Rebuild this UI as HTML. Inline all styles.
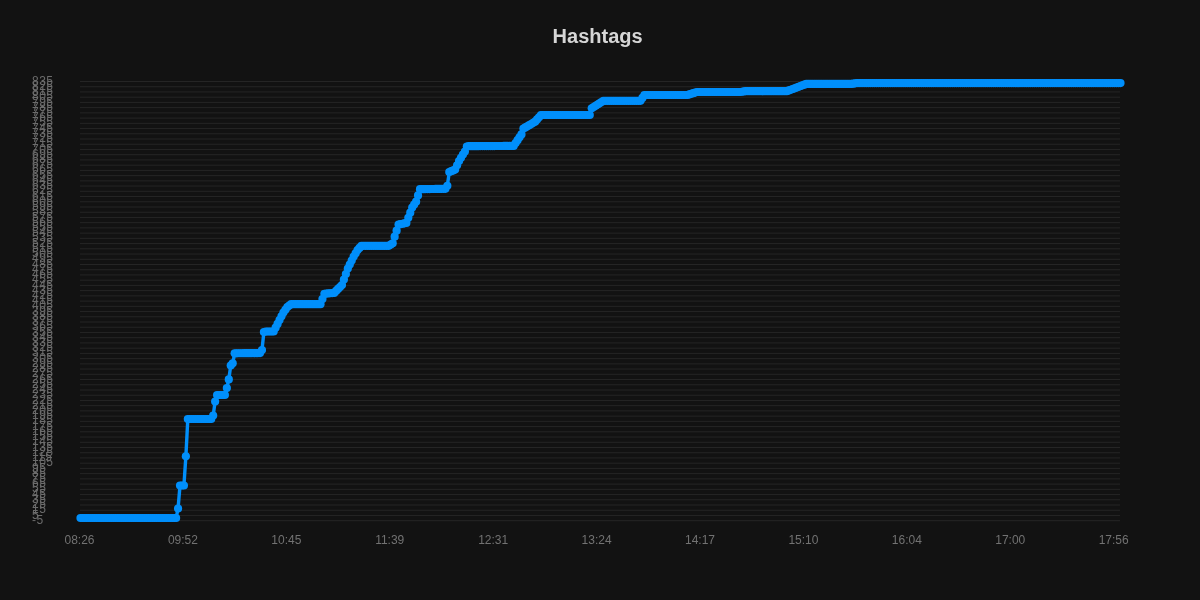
<!DOCTYPE html>
<html lang="en">
<head>
<meta charset="utf-8">
<title>Hashtags</title>
<style>
html,body{margin:0;padding:0;background:#121212;width:1200px;height:600px;overflow:hidden;}
svg{display:block;}
</style>
</head>
<body>
<svg width="1200" height="600" viewBox="0 0 1200 600">
<path d="M80.0 81.50H1120.0M80.0 86.73H1120.0M80.0 91.96H1120.0M80.0 97.19H1120.0M80.0 102.41H1120.0M80.0 107.64H1120.0M80.0 112.87H1120.0M80.0 118.10H1120.0M80.0 123.33H1120.0M80.0 128.56H1120.0M80.0 133.79H1120.0M80.0 139.01H1120.0M80.0 144.24H1120.0M80.0 149.47H1120.0M80.0 154.70H1120.0M80.0 159.93H1120.0M80.0 165.16H1120.0M80.0 170.39H1120.0M80.0 175.61H1120.0M80.0 180.84H1120.0M80.0 186.07H1120.0M80.0 191.30H1120.0M80.0 196.53H1120.0M80.0 201.76H1120.0M80.0 206.99H1120.0M80.0 212.21H1120.0M80.0 217.44H1120.0M80.0 222.67H1120.0M80.0 227.90H1120.0M80.0 233.13H1120.0M80.0 238.36H1120.0M80.0 243.59H1120.0M80.0 248.81H1120.0M80.0 254.04H1120.0M80.0 259.27H1120.0M80.0 264.50H1120.0M80.0 269.73H1120.0M80.0 274.96H1120.0M80.0 280.19H1120.0M80.0 285.41H1120.0M80.0 290.64H1120.0M80.0 295.87H1120.0M80.0 301.10H1120.0M80.0 306.33H1120.0M80.0 311.56H1120.0M80.0 316.79H1120.0M80.0 322.01H1120.0M80.0 327.24H1120.0M80.0 332.47H1120.0M80.0 337.70H1120.0M80.0 342.93H1120.0M80.0 348.16H1120.0M80.0 353.39H1120.0M80.0 358.61H1120.0M80.0 363.84H1120.0M80.0 369.07H1120.0M80.0 374.30H1120.0M80.0 379.53H1120.0M80.0 384.76H1120.0M80.0 389.99H1120.0M80.0 395.21H1120.0M80.0 400.44H1120.0M80.0 405.67H1120.0M80.0 410.90H1120.0M80.0 416.13H1120.0M80.0 421.36H1120.0M80.0 426.59H1120.0M80.0 431.81H1120.0M80.0 437.04H1120.0M80.0 442.27H1120.0M80.0 447.50H1120.0M80.0 452.73H1120.0M80.0 457.96H1120.0M80.0 463.19H1120.0M80.0 468.41H1120.0M80.0 473.64H1120.0M80.0 478.87H1120.0M80.0 484.10H1120.0M80.0 489.33H1120.0M80.0 494.56H1120.0M80.0 499.79H1120.0M80.0 505.01H1120.0M80.0 510.24H1120.0M80.0 515.47H1120.0M80.0 520.70H1120.0" stroke="#252525" stroke-width="1" fill="none"/>
<g font-family="'Liberation Sans', Arial, sans-serif" font-size="12" fill="#6c6c6c" text-anchor="start" letter-spacing="0.4">
<text x="32.1" y="84.60">835</text>
<text x="32.1" y="89.83">825</text>
<text x="32.1" y="95.06">815</text>
<text x="32.1" y="100.29">805</text>
<text x="32.1" y="105.51">795</text>
<text x="32.1" y="110.74">785</text>
<text x="32.1" y="115.97">775</text>
<text x="32.1" y="121.20">765</text>
<text x="32.1" y="126.43">755</text>
<text x="32.1" y="131.66">745</text>
<text x="32.1" y="136.89">735</text>
<text x="32.1" y="142.11">725</text>
<text x="32.1" y="147.34">715</text>
<text x="32.1" y="152.57">705</text>
<text x="32.1" y="157.80">695</text>
<text x="32.1" y="163.03">685</text>
<text x="32.1" y="168.26">675</text>
<text x="32.1" y="173.49">665</text>
<text x="32.1" y="178.71">655</text>
<text x="32.1" y="183.94">645</text>
<text x="32.1" y="189.17">635</text>
<text x="32.1" y="194.40">625</text>
<text x="32.1" y="199.63">615</text>
<text x="32.1" y="204.86">605</text>
<text x="32.1" y="210.09">595</text>
<text x="32.1" y="215.31">585</text>
<text x="32.1" y="220.54">575</text>
<text x="32.1" y="225.77">565</text>
<text x="32.1" y="231.00">555</text>
<text x="32.1" y="236.23">545</text>
<text x="32.1" y="241.46">535</text>
<text x="32.1" y="246.69">525</text>
<text x="32.1" y="251.91">515</text>
<text x="32.1" y="257.14">505</text>
<text x="32.1" y="262.37">495</text>
<text x="32.1" y="267.60">485</text>
<text x="32.1" y="272.83">475</text>
<text x="32.1" y="278.06">465</text>
<text x="32.1" y="283.29">455</text>
<text x="32.1" y="288.51">445</text>
<text x="32.1" y="293.74">435</text>
<text x="32.1" y="298.97">425</text>
<text x="32.1" y="304.20">415</text>
<text x="32.1" y="309.43">405</text>
<text x="32.1" y="314.66">395</text>
<text x="32.1" y="319.89">385</text>
<text x="32.1" y="325.11">375</text>
<text x="32.1" y="330.34">365</text>
<text x="32.1" y="335.57">355</text>
<text x="32.1" y="340.80">345</text>
<text x="32.1" y="346.03">335</text>
<text x="32.1" y="351.26">325</text>
<text x="32.1" y="356.49">315</text>
<text x="32.1" y="361.71">305</text>
<text x="32.1" y="366.94">295</text>
<text x="32.1" y="372.17">285</text>
<text x="32.1" y="377.40">275</text>
<text x="32.1" y="382.63">265</text>
<text x="32.1" y="387.86">255</text>
<text x="32.1" y="393.09">245</text>
<text x="32.1" y="398.31">235</text>
<text x="32.1" y="403.54">225</text>
<text x="32.1" y="408.77">215</text>
<text x="32.1" y="414.00">205</text>
<text x="32.1" y="419.23">195</text>
<text x="32.1" y="424.46">185</text>
<text x="32.1" y="429.69">175</text>
<text x="32.1" y="434.91">165</text>
<text x="32.1" y="440.14">155</text>
<text x="32.1" y="445.37">145</text>
<text x="32.1" y="450.60">135</text>
<text x="32.1" y="455.83">125</text>
<text x="32.1" y="461.06">115</text>
<text x="32.1" y="466.29">105</text>
<text x="32.1" y="471.51">95</text>
<text x="32.1" y="476.74">85</text>
<text x="32.1" y="481.97">75</text>
<text x="32.1" y="487.20">65</text>
<text x="32.1" y="492.43">55</text>
<text x="32.1" y="497.66">45</text>
<text x="32.1" y="502.89">35</text>
<text x="32.1" y="508.11">25</text>
<text x="32.1" y="513.34">15</text>
<text x="32.1" y="518.57">5</text>
<text x="32.1" y="523.80">-5</text>
</g>
<g font-family="'Liberation Sans', Arial, sans-serif" font-size="12" fill="#727272" text-anchor="middle">
<text x="79.50" y="544">08:26</text>
<text x="182.91" y="544">09:52</text>
<text x="286.33" y="544">10:45</text>
<text x="389.74" y="544">11:39</text>
<text x="493.16" y="544">12:31</text>
<text x="596.57" y="544">13:24</text>
<text x="699.99" y="544">14:17</text>
<text x="803.40" y="544">15:10</text>
<text x="906.82" y="544">16:04</text>
<text x="1010.23" y="544">17:00</text>
<text x="1113.65" y="544">17:56</text>
</g>
<text x="597.6" y="43.3" font-family="'Liberation Sans', Arial, sans-serif" font-size="20" font-weight="bold" fill="#d6d6d6" text-anchor="middle">Hashtags</text>
<path d="M80.50 518.00L82.45 518.00L84.40 518.00L86.35 518.00L88.30 518.00L90.26 518.00L92.21 518.00L94.16 518.00L96.11 518.00L98.06 518.00L100.01 518.00L101.96 518.00L103.91 518.00L105.87 518.00L107.82 518.00L109.77 518.00L111.72 518.00L113.67 518.00L115.62 518.00L117.57 518.00L119.52 518.00L121.48 518.00L123.43 518.00L125.38 518.00L127.33 518.00L129.28 518.00L131.23 518.00L133.18 518.00L135.13 518.00L137.09 518.00L139.04 518.00L140.99 518.00L142.94 518.00L144.89 518.00L146.84 518.00L148.79 518.00L150.74 518.00L152.70 518.00L154.65 518.00L156.60 518.00L158.55 518.00L160.50 518.00L162.45 518.00L164.40 518.00L166.35 518.00L168.30 518.00L170.26 518.00L172.21 518.00L174.16 518.00L176.11 518.00L178.06 508.50L180.01 485.50L181.96 485.50L183.91 485.50L185.87 456.30L187.82 419.00L189.77 419.00L191.72 419.00L193.67 419.00L195.62 419.00L197.57 419.00L199.52 419.00L201.48 419.00L203.43 419.00L205.38 419.00L207.33 419.00L209.28 419.00L211.23 419.00L213.18 415.50L215.13 401.50L217.09 395.00L219.04 395.00L220.99 395.00L222.94 395.00L224.89 395.00L226.84 388.10L228.79 379.40L230.74 365.50L232.70 363.30L234.65 353.30L236.60 353.28L238.55 353.27L240.50 353.25L242.45 353.24L244.40 353.22L246.35 353.21L248.30 353.19L250.26 353.18L252.21 353.16L254.16 353.15L256.11 353.13L258.06 353.12L260.01 353.10L261.96 350.00L263.91 332.00L265.87 331.50L267.82 331.50L269.77 331.50L271.72 331.50L273.67 331.50L275.62 327.70L277.57 323.90L279.52 320.10L281.48 316.30L283.43 312.50L285.38 309.75L287.33 307.00L289.28 305.60L291.23 304.20L293.18 304.20L295.13 304.20L297.09 304.20L299.04 304.20L300.99 304.20L302.94 304.20L304.89 304.20L306.84 304.20L308.79 304.20L310.74 304.20L312.70 304.20L314.65 304.20L316.60 304.20L318.55 304.20L320.50 304.20L322.45 299.00L324.40 293.80L326.35 293.62L328.30 293.44L330.26 293.26L332.21 293.08L334.16 292.90L336.11 290.92L338.06 288.95L340.01 286.98L341.96 285.00L343.91 279.50L345.87 274.00L347.82 268.50L349.77 264.50L351.72 260.50L353.67 256.50L355.62 253.25L357.57 250.00L359.52 247.90L361.48 245.80L363.43 245.80L365.38 245.80L367.33 245.80L369.28 245.80L371.23 245.80L373.18 245.80L375.13 245.80L377.09 245.80L379.04 245.80L380.99 245.80L382.94 245.80L384.89 245.80L386.84 245.80L388.79 245.80L390.74 244.55L392.70 243.30L394.65 236.70L396.60 230.65L398.55 224.60L400.50 224.18L402.45 223.75L404.40 223.32L406.35 222.90L408.30 217.77L410.26 212.63L412.21 207.50L414.16 204.60L416.11 201.70L418.06 195.45L420.01 189.20L421.96 189.17L423.91 189.14L425.87 189.11L427.82 189.08L429.77 189.05L431.72 189.02L433.67 188.98L435.62 188.95L437.57 188.92L439.52 188.89L441.48 188.86L443.43 188.83L445.38 188.80L447.33 185.80L449.28 172.00L451.23 171.20L453.18 170.40L455.13 169.60L457.09 165.30L459.04 161.00L460.99 157.75L462.94 154.50L464.89 151.50L466.84 146.50L468.79 146.20L470.74 146.19L472.70 146.17L474.65 146.16L476.60 146.15L478.55 146.13L480.50 146.12L482.45 146.11L484.40 146.10L486.35 146.08L488.30 146.07L490.26 146.06L492.21 146.04L494.16 146.03L496.11 146.02L498.06 146.00L500.01 145.99L501.96 145.98L503.91 145.97L505.87 145.95L507.82 145.94L509.77 145.93L511.72 145.91L513.67 145.90L515.62 143.03L517.57 140.15L519.52 137.28L521.48 134.40L523.43 128.60L525.38 127.45L527.33 126.30L529.28 125.15L531.23 124.00L533.18 122.85L535.13 121.70L537.09 119.47L539.04 117.23L540.99 115.00L542.94 115.00L544.89 115.00L546.84 115.00L548.79 115.00L550.74 115.00L552.70 115.00L554.65 115.00L556.60 115.00L558.55 115.00L560.50 115.00L562.45 115.00L564.40 115.00L566.35 115.00L568.30 115.00L570.26 115.00L572.21 115.00L574.16 115.00L576.11 115.00L578.06 115.00L580.01 115.00L581.96 115.00L583.91 115.00L585.87 115.00L587.82 115.00L589.77 115.00L591.72 108.30L593.67 107.05L595.62 105.80L597.57 104.55L599.52 103.30L601.48 102.05L603.43 100.80L605.38 100.80L607.33 100.80L609.28 100.80L611.23 100.80L613.18 100.80L615.13 100.80L617.09 100.80L619.04 100.80L620.99 100.80L622.94 100.80L624.89 100.80L626.84 100.80L628.79 100.80L630.74 100.80L632.70 100.80L634.65 100.80L636.60 100.80L638.55 100.80L640.50 100.80L642.45 97.90L644.40 95.00L646.35 95.00L648.30 95.00L650.26 95.00L652.21 95.00L654.16 95.00L656.11 95.00L658.06 95.00L660.01 95.00L661.96 95.00L663.91 95.00L665.87 95.00L667.82 95.00L669.77 95.00L671.72 95.00L673.67 95.00L675.62 95.00L677.57 95.00L679.52 95.00L681.48 95.00L683.43 95.00L685.38 95.00L687.33 95.00L689.28 94.40L691.23 93.80L693.18 93.20L695.13 92.60L697.09 92.00L699.04 92.00L700.99 92.00L702.94 92.00L704.89 92.00L706.84 92.00L708.79 92.00L710.74 92.00L712.70 92.00L714.65 92.00L716.60 92.00L718.55 92.00L720.50 92.00L722.45 92.00L724.40 92.00L726.35 92.00L728.30 92.00L730.26 92.00L732.21 92.00L734.16 92.00L736.11 92.00L738.06 92.00L740.01 92.00L741.96 91.73L743.91 91.47L745.87 91.20L747.82 91.20L749.77 91.20L751.72 91.20L753.67 91.20L755.62 91.20L757.57 91.20L759.52 91.20L761.48 91.20L763.43 91.20L765.38 91.20L767.33 91.20L769.28 91.20L771.23 91.20L773.18 91.20L775.13 91.20L777.09 91.20L779.04 91.20L780.99 91.20L782.94 91.20L784.89 91.20L786.84 91.20L788.79 90.47L790.74 89.74L792.70 89.01L794.65 88.28L796.60 87.55L798.55 86.82L800.50 86.09L802.45 85.36L804.40 84.63L806.35 83.90L808.30 83.90L810.26 83.90L812.21 83.90L814.16 83.90L816.11 83.90L818.06 83.90L820.01 83.90L821.96 83.90L823.91 83.90L825.87 83.90L827.82 83.90L829.77 83.90L831.72 83.90L833.67 83.90L835.62 83.90L837.57 83.90L839.52 83.90L841.48 83.90L843.43 83.90L845.38 83.90L847.33 83.90L849.28 83.90L851.23 83.90L853.18 83.63L855.13 83.37L857.09 83.10L859.04 83.10L860.99 83.10L862.94 83.10L864.89 83.10L866.84 83.10L868.79 83.10L870.74 83.10L872.70 83.10L874.65 83.10L876.60 83.10L878.55 83.10L880.50 83.10L882.45 83.10L884.40 83.10L886.35 83.10L888.30 83.10L890.26 83.10L892.21 83.10L894.16 83.10L896.11 83.10L898.06 83.10L900.01 83.10L901.96 83.10L903.91 83.10L905.87 83.10L907.82 83.10L909.77 83.10L911.72 83.10L913.67 83.10L915.62 83.10L917.57 83.10L919.52 83.10L921.48 83.10L923.43 83.10L925.38 83.10L927.33 83.10L929.28 83.10L931.23 83.10L933.18 83.10L935.13 83.10L937.09 83.10L939.04 83.10L940.99 83.10L942.94 83.10L944.89 83.10L946.84 83.10L948.79 83.10L950.74 83.10L952.70 83.10L954.65 83.10L956.60 83.10L958.55 83.10L960.50 83.10L962.45 83.10L964.40 83.10L966.35 83.10L968.30 83.10L970.26 83.10L972.21 83.10L974.16 83.10L976.11 83.10L978.06 83.10L980.01 83.10L981.96 83.10L983.91 83.10L985.87 83.10L987.82 83.10L989.77 83.10L991.72 83.10L993.67 83.10L995.62 83.10L997.57 83.10L999.52 83.10L1001.48 83.10L1003.43 83.10L1005.38 83.10L1007.33 83.10L1009.28 83.10L1011.23 83.10L1013.18 83.10L1015.13 83.10L1017.09 83.10L1019.04 83.10L1020.99 83.10L1022.94 83.10L1024.89 83.10L1026.84 83.10L1028.79 83.10L1030.74 83.10L1032.70 83.10L1034.65 83.10L1036.60 83.10L1038.55 83.10L1040.50 83.10L1042.45 83.10L1044.40 83.10L1046.35 83.10L1048.30 83.10L1050.26 83.10L1052.21 83.10L1054.16 83.10L1056.11 83.10L1058.06 83.10L1060.01 83.10L1061.96 83.10L1063.91 83.10L1065.87 83.10L1067.82 83.10L1069.77 83.10L1071.72 83.10L1073.67 83.10L1075.62 83.10L1077.57 83.10L1079.52 83.10L1081.48 83.10L1083.43 83.10L1085.38 83.10L1087.33 83.10L1089.28 83.10L1091.23 83.10L1093.18 83.10L1095.13 83.10L1097.09 83.10L1099.04 83.10L1100.99 83.10L1102.94 83.10L1104.89 83.10L1106.84 83.10L1108.79 83.10L1110.74 83.10L1112.70 83.10L1114.65 83.10L1116.60 83.10L1118.55 83.10L1120.50 83.10" fill="none" stroke="#008FFB" stroke-width="3.4" stroke-linecap="butt" stroke-linejoin="round"/>
<g fill="#008FFB">
<circle cx="80.50" cy="518.00" r="4.1"/>
<circle cx="82.45" cy="518.00" r="4.1"/>
<circle cx="84.40" cy="518.00" r="4.1"/>
<circle cx="86.35" cy="518.00" r="4.1"/>
<circle cx="88.30" cy="518.00" r="4.1"/>
<circle cx="90.26" cy="518.00" r="4.1"/>
<circle cx="92.21" cy="518.00" r="4.1"/>
<circle cx="94.16" cy="518.00" r="4.1"/>
<circle cx="96.11" cy="518.00" r="4.1"/>
<circle cx="98.06" cy="518.00" r="4.1"/>
<circle cx="100.01" cy="518.00" r="4.1"/>
<circle cx="101.96" cy="518.00" r="4.1"/>
<circle cx="103.91" cy="518.00" r="4.1"/>
<circle cx="105.87" cy="518.00" r="4.1"/>
<circle cx="107.82" cy="518.00" r="4.1"/>
<circle cx="109.77" cy="518.00" r="4.1"/>
<circle cx="111.72" cy="518.00" r="4.1"/>
<circle cx="113.67" cy="518.00" r="4.1"/>
<circle cx="115.62" cy="518.00" r="4.1"/>
<circle cx="117.57" cy="518.00" r="4.1"/>
<circle cx="119.52" cy="518.00" r="4.1"/>
<circle cx="121.48" cy="518.00" r="4.1"/>
<circle cx="123.43" cy="518.00" r="4.1"/>
<circle cx="125.38" cy="518.00" r="4.1"/>
<circle cx="127.33" cy="518.00" r="4.1"/>
<circle cx="129.28" cy="518.00" r="4.1"/>
<circle cx="131.23" cy="518.00" r="4.1"/>
<circle cx="133.18" cy="518.00" r="4.1"/>
<circle cx="135.13" cy="518.00" r="4.1"/>
<circle cx="137.09" cy="518.00" r="4.1"/>
<circle cx="139.04" cy="518.00" r="4.1"/>
<circle cx="140.99" cy="518.00" r="4.1"/>
<circle cx="142.94" cy="518.00" r="4.1"/>
<circle cx="144.89" cy="518.00" r="4.1"/>
<circle cx="146.84" cy="518.00" r="4.1"/>
<circle cx="148.79" cy="518.00" r="4.1"/>
<circle cx="150.74" cy="518.00" r="4.1"/>
<circle cx="152.70" cy="518.00" r="4.1"/>
<circle cx="154.65" cy="518.00" r="4.1"/>
<circle cx="156.60" cy="518.00" r="4.1"/>
<circle cx="158.55" cy="518.00" r="4.1"/>
<circle cx="160.50" cy="518.00" r="4.1"/>
<circle cx="162.45" cy="518.00" r="4.1"/>
<circle cx="164.40" cy="518.00" r="4.1"/>
<circle cx="166.35" cy="518.00" r="4.1"/>
<circle cx="168.30" cy="518.00" r="4.1"/>
<circle cx="170.26" cy="518.00" r="4.1"/>
<circle cx="172.21" cy="518.00" r="4.1"/>
<circle cx="174.16" cy="518.00" r="4.1"/>
<circle cx="176.11" cy="518.00" r="4.1"/>
<circle cx="178.06" cy="508.50" r="4.1"/>
<circle cx="180.01" cy="485.50" r="4.1"/>
<circle cx="181.96" cy="485.50" r="4.1"/>
<circle cx="183.91" cy="485.50" r="4.1"/>
<circle cx="185.87" cy="456.30" r="4.1"/>
<circle cx="187.82" cy="419.00" r="4.1"/>
<circle cx="189.77" cy="419.00" r="4.1"/>
<circle cx="191.72" cy="419.00" r="4.1"/>
<circle cx="193.67" cy="419.00" r="4.1"/>
<circle cx="195.62" cy="419.00" r="4.1"/>
<circle cx="197.57" cy="419.00" r="4.1"/>
<circle cx="199.52" cy="419.00" r="4.1"/>
<circle cx="201.48" cy="419.00" r="4.1"/>
<circle cx="203.43" cy="419.00" r="4.1"/>
<circle cx="205.38" cy="419.00" r="4.1"/>
<circle cx="207.33" cy="419.00" r="4.1"/>
<circle cx="209.28" cy="419.00" r="4.1"/>
<circle cx="211.23" cy="419.00" r="4.1"/>
<circle cx="213.18" cy="415.50" r="4.1"/>
<circle cx="215.13" cy="401.50" r="4.1"/>
<circle cx="217.09" cy="395.00" r="4.1"/>
<circle cx="219.04" cy="395.00" r="4.1"/>
<circle cx="220.99" cy="395.00" r="4.1"/>
<circle cx="222.94" cy="395.00" r="4.1"/>
<circle cx="224.89" cy="395.00" r="4.1"/>
<circle cx="226.84" cy="388.10" r="4.1"/>
<circle cx="228.79" cy="379.40" r="4.1"/>
<circle cx="230.74" cy="365.50" r="4.1"/>
<circle cx="232.70" cy="363.30" r="4.1"/>
<circle cx="234.65" cy="353.30" r="4.1"/>
<circle cx="236.60" cy="353.28" r="4.1"/>
<circle cx="238.55" cy="353.27" r="4.1"/>
<circle cx="240.50" cy="353.25" r="4.1"/>
<circle cx="242.45" cy="353.24" r="4.1"/>
<circle cx="244.40" cy="353.22" r="4.1"/>
<circle cx="246.35" cy="353.21" r="4.1"/>
<circle cx="248.30" cy="353.19" r="4.1"/>
<circle cx="250.26" cy="353.18" r="4.1"/>
<circle cx="252.21" cy="353.16" r="4.1"/>
<circle cx="254.16" cy="353.15" r="4.1"/>
<circle cx="256.11" cy="353.13" r="4.1"/>
<circle cx="258.06" cy="353.12" r="4.1"/>
<circle cx="260.01" cy="353.10" r="4.1"/>
<circle cx="261.96" cy="350.00" r="4.1"/>
<circle cx="263.91" cy="332.00" r="4.1"/>
<circle cx="265.87" cy="331.50" r="4.1"/>
<circle cx="267.82" cy="331.50" r="4.1"/>
<circle cx="269.77" cy="331.50" r="4.1"/>
<circle cx="271.72" cy="331.50" r="4.1"/>
<circle cx="273.67" cy="331.50" r="4.1"/>
<circle cx="275.62" cy="327.70" r="4.1"/>
<circle cx="277.57" cy="323.90" r="4.1"/>
<circle cx="279.52" cy="320.10" r="4.1"/>
<circle cx="281.48" cy="316.30" r="4.1"/>
<circle cx="283.43" cy="312.50" r="4.1"/>
<circle cx="285.38" cy="309.75" r="4.1"/>
<circle cx="287.33" cy="307.00" r="4.1"/>
<circle cx="289.28" cy="305.60" r="4.1"/>
<circle cx="291.23" cy="304.20" r="4.1"/>
<circle cx="293.18" cy="304.20" r="4.1"/>
<circle cx="295.13" cy="304.20" r="4.1"/>
<circle cx="297.09" cy="304.20" r="4.1"/>
<circle cx="299.04" cy="304.20" r="4.1"/>
<circle cx="300.99" cy="304.20" r="4.1"/>
<circle cx="302.94" cy="304.20" r="4.1"/>
<circle cx="304.89" cy="304.20" r="4.1"/>
<circle cx="306.84" cy="304.20" r="4.1"/>
<circle cx="308.79" cy="304.20" r="4.1"/>
<circle cx="310.74" cy="304.20" r="4.1"/>
<circle cx="312.70" cy="304.20" r="4.1"/>
<circle cx="314.65" cy="304.20" r="4.1"/>
<circle cx="316.60" cy="304.20" r="4.1"/>
<circle cx="318.55" cy="304.20" r="4.1"/>
<circle cx="320.50" cy="304.20" r="4.1"/>
<circle cx="322.45" cy="299.00" r="4.1"/>
<circle cx="324.40" cy="293.80" r="4.1"/>
<circle cx="326.35" cy="293.62" r="4.1"/>
<circle cx="328.30" cy="293.44" r="4.1"/>
<circle cx="330.26" cy="293.26" r="4.1"/>
<circle cx="332.21" cy="293.08" r="4.1"/>
<circle cx="334.16" cy="292.90" r="4.1"/>
<circle cx="336.11" cy="290.92" r="4.1"/>
<circle cx="338.06" cy="288.95" r="4.1"/>
<circle cx="340.01" cy="286.98" r="4.1"/>
<circle cx="341.96" cy="285.00" r="4.1"/>
<circle cx="343.91" cy="279.50" r="4.1"/>
<circle cx="345.87" cy="274.00" r="4.1"/>
<circle cx="347.82" cy="268.50" r="4.1"/>
<circle cx="349.77" cy="264.50" r="4.1"/>
<circle cx="351.72" cy="260.50" r="4.1"/>
<circle cx="353.67" cy="256.50" r="4.1"/>
<circle cx="355.62" cy="253.25" r="4.1"/>
<circle cx="357.57" cy="250.00" r="4.1"/>
<circle cx="359.52" cy="247.90" r="4.1"/>
<circle cx="361.48" cy="245.80" r="4.1"/>
<circle cx="363.43" cy="245.80" r="4.1"/>
<circle cx="365.38" cy="245.80" r="4.1"/>
<circle cx="367.33" cy="245.80" r="4.1"/>
<circle cx="369.28" cy="245.80" r="4.1"/>
<circle cx="371.23" cy="245.80" r="4.1"/>
<circle cx="373.18" cy="245.80" r="4.1"/>
<circle cx="375.13" cy="245.80" r="4.1"/>
<circle cx="377.09" cy="245.80" r="4.1"/>
<circle cx="379.04" cy="245.80" r="4.1"/>
<circle cx="380.99" cy="245.80" r="4.1"/>
<circle cx="382.94" cy="245.80" r="4.1"/>
<circle cx="384.89" cy="245.80" r="4.1"/>
<circle cx="386.84" cy="245.80" r="4.1"/>
<circle cx="388.79" cy="245.80" r="4.1"/>
<circle cx="390.74" cy="244.55" r="4.1"/>
<circle cx="392.70" cy="243.30" r="4.1"/>
<circle cx="394.65" cy="236.70" r="4.1"/>
<circle cx="396.60" cy="230.65" r="4.1"/>
<circle cx="398.55" cy="224.60" r="4.1"/>
<circle cx="400.50" cy="224.18" r="4.1"/>
<circle cx="402.45" cy="223.75" r="4.1"/>
<circle cx="404.40" cy="223.32" r="4.1"/>
<circle cx="406.35" cy="222.90" r="4.1"/>
<circle cx="408.30" cy="217.77" r="4.1"/>
<circle cx="410.26" cy="212.63" r="4.1"/>
<circle cx="412.21" cy="207.50" r="4.1"/>
<circle cx="414.16" cy="204.60" r="4.1"/>
<circle cx="416.11" cy="201.70" r="4.1"/>
<circle cx="418.06" cy="195.45" r="4.1"/>
<circle cx="420.01" cy="189.20" r="4.1"/>
<circle cx="421.96" cy="189.17" r="4.1"/>
<circle cx="423.91" cy="189.14" r="4.1"/>
<circle cx="425.87" cy="189.11" r="4.1"/>
<circle cx="427.82" cy="189.08" r="4.1"/>
<circle cx="429.77" cy="189.05" r="4.1"/>
<circle cx="431.72" cy="189.02" r="4.1"/>
<circle cx="433.67" cy="188.98" r="4.1"/>
<circle cx="435.62" cy="188.95" r="4.1"/>
<circle cx="437.57" cy="188.92" r="4.1"/>
<circle cx="439.52" cy="188.89" r="4.1"/>
<circle cx="441.48" cy="188.86" r="4.1"/>
<circle cx="443.43" cy="188.83" r="4.1"/>
<circle cx="445.38" cy="188.80" r="4.1"/>
<circle cx="447.33" cy="185.80" r="4.1"/>
<circle cx="449.28" cy="172.00" r="4.1"/>
<circle cx="451.23" cy="171.20" r="4.1"/>
<circle cx="453.18" cy="170.40" r="4.1"/>
<circle cx="455.13" cy="169.60" r="4.1"/>
<circle cx="457.09" cy="165.30" r="4.1"/>
<circle cx="459.04" cy="161.00" r="4.1"/>
<circle cx="460.99" cy="157.75" r="4.1"/>
<circle cx="462.94" cy="154.50" r="4.1"/>
<circle cx="464.89" cy="151.50" r="4.1"/>
<circle cx="466.84" cy="146.50" r="4.1"/>
<circle cx="468.79" cy="146.20" r="4.1"/>
<circle cx="470.74" cy="146.19" r="4.1"/>
<circle cx="472.70" cy="146.17" r="4.1"/>
<circle cx="474.65" cy="146.16" r="4.1"/>
<circle cx="476.60" cy="146.15" r="4.1"/>
<circle cx="478.55" cy="146.13" r="4.1"/>
<circle cx="480.50" cy="146.12" r="4.1"/>
<circle cx="482.45" cy="146.11" r="4.1"/>
<circle cx="484.40" cy="146.10" r="4.1"/>
<circle cx="486.35" cy="146.08" r="4.1"/>
<circle cx="488.30" cy="146.07" r="4.1"/>
<circle cx="490.26" cy="146.06" r="4.1"/>
<circle cx="492.21" cy="146.04" r="4.1"/>
<circle cx="494.16" cy="146.03" r="4.1"/>
<circle cx="496.11" cy="146.02" r="4.1"/>
<circle cx="498.06" cy="146.00" r="4.1"/>
<circle cx="500.01" cy="145.99" r="4.1"/>
<circle cx="501.96" cy="145.98" r="4.1"/>
<circle cx="503.91" cy="145.97" r="4.1"/>
<circle cx="505.87" cy="145.95" r="4.1"/>
<circle cx="507.82" cy="145.94" r="4.1"/>
<circle cx="509.77" cy="145.93" r="4.1"/>
<circle cx="511.72" cy="145.91" r="4.1"/>
<circle cx="513.67" cy="145.90" r="4.1"/>
<circle cx="515.62" cy="143.03" r="4.1"/>
<circle cx="517.57" cy="140.15" r="4.1"/>
<circle cx="519.52" cy="137.28" r="4.1"/>
<circle cx="521.48" cy="134.40" r="4.1"/>
<circle cx="523.43" cy="128.60" r="4.1"/>
<circle cx="525.38" cy="127.45" r="4.1"/>
<circle cx="527.33" cy="126.30" r="4.1"/>
<circle cx="529.28" cy="125.15" r="4.1"/>
<circle cx="531.23" cy="124.00" r="4.1"/>
<circle cx="533.18" cy="122.85" r="4.1"/>
<circle cx="535.13" cy="121.70" r="4.1"/>
<circle cx="537.09" cy="119.47" r="4.1"/>
<circle cx="539.04" cy="117.23" r="4.1"/>
<circle cx="540.99" cy="115.00" r="4.1"/>
<circle cx="542.94" cy="115.00" r="4.1"/>
<circle cx="544.89" cy="115.00" r="4.1"/>
<circle cx="546.84" cy="115.00" r="4.1"/>
<circle cx="548.79" cy="115.00" r="4.1"/>
<circle cx="550.74" cy="115.00" r="4.1"/>
<circle cx="552.70" cy="115.00" r="4.1"/>
<circle cx="554.65" cy="115.00" r="4.1"/>
<circle cx="556.60" cy="115.00" r="4.1"/>
<circle cx="558.55" cy="115.00" r="4.1"/>
<circle cx="560.50" cy="115.00" r="4.1"/>
<circle cx="562.45" cy="115.00" r="4.1"/>
<circle cx="564.40" cy="115.00" r="4.1"/>
<circle cx="566.35" cy="115.00" r="4.1"/>
<circle cx="568.30" cy="115.00" r="4.1"/>
<circle cx="570.26" cy="115.00" r="4.1"/>
<circle cx="572.21" cy="115.00" r="4.1"/>
<circle cx="574.16" cy="115.00" r="4.1"/>
<circle cx="576.11" cy="115.00" r="4.1"/>
<circle cx="578.06" cy="115.00" r="4.1"/>
<circle cx="580.01" cy="115.00" r="4.1"/>
<circle cx="581.96" cy="115.00" r="4.1"/>
<circle cx="583.91" cy="115.00" r="4.1"/>
<circle cx="585.87" cy="115.00" r="4.1"/>
<circle cx="587.82" cy="115.00" r="4.1"/>
<circle cx="589.77" cy="115.00" r="4.1"/>
<circle cx="591.72" cy="108.30" r="4.1"/>
<circle cx="593.67" cy="107.05" r="4.1"/>
<circle cx="595.62" cy="105.80" r="4.1"/>
<circle cx="597.57" cy="104.55" r="4.1"/>
<circle cx="599.52" cy="103.30" r="4.1"/>
<circle cx="601.48" cy="102.05" r="4.1"/>
<circle cx="603.43" cy="100.80" r="4.1"/>
<circle cx="605.38" cy="100.80" r="4.1"/>
<circle cx="607.33" cy="100.80" r="4.1"/>
<circle cx="609.28" cy="100.80" r="4.1"/>
<circle cx="611.23" cy="100.80" r="4.1"/>
<circle cx="613.18" cy="100.80" r="4.1"/>
<circle cx="615.13" cy="100.80" r="4.1"/>
<circle cx="617.09" cy="100.80" r="4.1"/>
<circle cx="619.04" cy="100.80" r="4.1"/>
<circle cx="620.99" cy="100.80" r="4.1"/>
<circle cx="622.94" cy="100.80" r="4.1"/>
<circle cx="624.89" cy="100.80" r="4.1"/>
<circle cx="626.84" cy="100.80" r="4.1"/>
<circle cx="628.79" cy="100.80" r="4.1"/>
<circle cx="630.74" cy="100.80" r="4.1"/>
<circle cx="632.70" cy="100.80" r="4.1"/>
<circle cx="634.65" cy="100.80" r="4.1"/>
<circle cx="636.60" cy="100.80" r="4.1"/>
<circle cx="638.55" cy="100.80" r="4.1"/>
<circle cx="640.50" cy="100.80" r="4.1"/>
<circle cx="642.45" cy="97.90" r="4.1"/>
<circle cx="644.40" cy="95.00" r="4.1"/>
<circle cx="646.35" cy="95.00" r="4.1"/>
<circle cx="648.30" cy="95.00" r="4.1"/>
<circle cx="650.26" cy="95.00" r="4.1"/>
<circle cx="652.21" cy="95.00" r="4.1"/>
<circle cx="654.16" cy="95.00" r="4.1"/>
<circle cx="656.11" cy="95.00" r="4.1"/>
<circle cx="658.06" cy="95.00" r="4.1"/>
<circle cx="660.01" cy="95.00" r="4.1"/>
<circle cx="661.96" cy="95.00" r="4.1"/>
<circle cx="663.91" cy="95.00" r="4.1"/>
<circle cx="665.87" cy="95.00" r="4.1"/>
<circle cx="667.82" cy="95.00" r="4.1"/>
<circle cx="669.77" cy="95.00" r="4.1"/>
<circle cx="671.72" cy="95.00" r="4.1"/>
<circle cx="673.67" cy="95.00" r="4.1"/>
<circle cx="675.62" cy="95.00" r="4.1"/>
<circle cx="677.57" cy="95.00" r="4.1"/>
<circle cx="679.52" cy="95.00" r="4.1"/>
<circle cx="681.48" cy="95.00" r="4.1"/>
<circle cx="683.43" cy="95.00" r="4.1"/>
<circle cx="685.38" cy="95.00" r="4.1"/>
<circle cx="687.33" cy="95.00" r="4.1"/>
<circle cx="689.28" cy="94.40" r="4.1"/>
<circle cx="691.23" cy="93.80" r="4.1"/>
<circle cx="693.18" cy="93.20" r="4.1"/>
<circle cx="695.13" cy="92.60" r="4.1"/>
<circle cx="697.09" cy="92.00" r="4.1"/>
<circle cx="699.04" cy="92.00" r="4.1"/>
<circle cx="700.99" cy="92.00" r="4.1"/>
<circle cx="702.94" cy="92.00" r="4.1"/>
<circle cx="704.89" cy="92.00" r="4.1"/>
<circle cx="706.84" cy="92.00" r="4.1"/>
<circle cx="708.79" cy="92.00" r="4.1"/>
<circle cx="710.74" cy="92.00" r="4.1"/>
<circle cx="712.70" cy="92.00" r="4.1"/>
<circle cx="714.65" cy="92.00" r="4.1"/>
<circle cx="716.60" cy="92.00" r="4.1"/>
<circle cx="718.55" cy="92.00" r="4.1"/>
<circle cx="720.50" cy="92.00" r="4.1"/>
<circle cx="722.45" cy="92.00" r="4.1"/>
<circle cx="724.40" cy="92.00" r="4.1"/>
<circle cx="726.35" cy="92.00" r="4.1"/>
<circle cx="728.30" cy="92.00" r="4.1"/>
<circle cx="730.26" cy="92.00" r="4.1"/>
<circle cx="732.21" cy="92.00" r="4.1"/>
<circle cx="734.16" cy="92.00" r="4.1"/>
<circle cx="736.11" cy="92.00" r="4.1"/>
<circle cx="738.06" cy="92.00" r="4.1"/>
<circle cx="740.01" cy="92.00" r="4.1"/>
<circle cx="741.96" cy="91.73" r="4.1"/>
<circle cx="743.91" cy="91.47" r="4.1"/>
<circle cx="745.87" cy="91.20" r="4.1"/>
<circle cx="747.82" cy="91.20" r="4.1"/>
<circle cx="749.77" cy="91.20" r="4.1"/>
<circle cx="751.72" cy="91.20" r="4.1"/>
<circle cx="753.67" cy="91.20" r="4.1"/>
<circle cx="755.62" cy="91.20" r="4.1"/>
<circle cx="757.57" cy="91.20" r="4.1"/>
<circle cx="759.52" cy="91.20" r="4.1"/>
<circle cx="761.48" cy="91.20" r="4.1"/>
<circle cx="763.43" cy="91.20" r="4.1"/>
<circle cx="765.38" cy="91.20" r="4.1"/>
<circle cx="767.33" cy="91.20" r="4.1"/>
<circle cx="769.28" cy="91.20" r="4.1"/>
<circle cx="771.23" cy="91.20" r="4.1"/>
<circle cx="773.18" cy="91.20" r="4.1"/>
<circle cx="775.13" cy="91.20" r="4.1"/>
<circle cx="777.09" cy="91.20" r="4.1"/>
<circle cx="779.04" cy="91.20" r="4.1"/>
<circle cx="780.99" cy="91.20" r="4.1"/>
<circle cx="782.94" cy="91.20" r="4.1"/>
<circle cx="784.89" cy="91.20" r="4.1"/>
<circle cx="786.84" cy="91.20" r="4.1"/>
<circle cx="788.79" cy="90.47" r="4.1"/>
<circle cx="790.74" cy="89.74" r="4.1"/>
<circle cx="792.70" cy="89.01" r="4.1"/>
<circle cx="794.65" cy="88.28" r="4.1"/>
<circle cx="796.60" cy="87.55" r="4.1"/>
<circle cx="798.55" cy="86.82" r="4.1"/>
<circle cx="800.50" cy="86.09" r="4.1"/>
<circle cx="802.45" cy="85.36" r="4.1"/>
<circle cx="804.40" cy="84.63" r="4.1"/>
<circle cx="806.35" cy="83.90" r="4.1"/>
<circle cx="808.30" cy="83.90" r="4.1"/>
<circle cx="810.26" cy="83.90" r="4.1"/>
<circle cx="812.21" cy="83.90" r="4.1"/>
<circle cx="814.16" cy="83.90" r="4.1"/>
<circle cx="816.11" cy="83.90" r="4.1"/>
<circle cx="818.06" cy="83.90" r="4.1"/>
<circle cx="820.01" cy="83.90" r="4.1"/>
<circle cx="821.96" cy="83.90" r="4.1"/>
<circle cx="823.91" cy="83.90" r="4.1"/>
<circle cx="825.87" cy="83.90" r="4.1"/>
<circle cx="827.82" cy="83.90" r="4.1"/>
<circle cx="829.77" cy="83.90" r="4.1"/>
<circle cx="831.72" cy="83.90" r="4.1"/>
<circle cx="833.67" cy="83.90" r="4.1"/>
<circle cx="835.62" cy="83.90" r="4.1"/>
<circle cx="837.57" cy="83.90" r="4.1"/>
<circle cx="839.52" cy="83.90" r="4.1"/>
<circle cx="841.48" cy="83.90" r="4.1"/>
<circle cx="843.43" cy="83.90" r="4.1"/>
<circle cx="845.38" cy="83.90" r="4.1"/>
<circle cx="847.33" cy="83.90" r="4.1"/>
<circle cx="849.28" cy="83.90" r="4.1"/>
<circle cx="851.23" cy="83.90" r="4.1"/>
<circle cx="853.18" cy="83.63" r="4.1"/>
<circle cx="855.13" cy="83.37" r="4.1"/>
<circle cx="857.09" cy="83.10" r="4.1"/>
<circle cx="859.04" cy="83.10" r="4.1"/>
<circle cx="860.99" cy="83.10" r="4.1"/>
<circle cx="862.94" cy="83.10" r="4.1"/>
<circle cx="864.89" cy="83.10" r="4.1"/>
<circle cx="866.84" cy="83.10" r="4.1"/>
<circle cx="868.79" cy="83.10" r="4.1"/>
<circle cx="870.74" cy="83.10" r="4.1"/>
<circle cx="872.70" cy="83.10" r="4.1"/>
<circle cx="874.65" cy="83.10" r="4.1"/>
<circle cx="876.60" cy="83.10" r="4.1"/>
<circle cx="878.55" cy="83.10" r="4.1"/>
<circle cx="880.50" cy="83.10" r="4.1"/>
<circle cx="882.45" cy="83.10" r="4.1"/>
<circle cx="884.40" cy="83.10" r="4.1"/>
<circle cx="886.35" cy="83.10" r="4.1"/>
<circle cx="888.30" cy="83.10" r="4.1"/>
<circle cx="890.26" cy="83.10" r="4.1"/>
<circle cx="892.21" cy="83.10" r="4.1"/>
<circle cx="894.16" cy="83.10" r="4.1"/>
<circle cx="896.11" cy="83.10" r="4.1"/>
<circle cx="898.06" cy="83.10" r="4.1"/>
<circle cx="900.01" cy="83.10" r="4.1"/>
<circle cx="901.96" cy="83.10" r="4.1"/>
<circle cx="903.91" cy="83.10" r="4.1"/>
<circle cx="905.87" cy="83.10" r="4.1"/>
<circle cx="907.82" cy="83.10" r="4.1"/>
<circle cx="909.77" cy="83.10" r="4.1"/>
<circle cx="911.72" cy="83.10" r="4.1"/>
<circle cx="913.67" cy="83.10" r="4.1"/>
<circle cx="915.62" cy="83.10" r="4.1"/>
<circle cx="917.57" cy="83.10" r="4.1"/>
<circle cx="919.52" cy="83.10" r="4.1"/>
<circle cx="921.48" cy="83.10" r="4.1"/>
<circle cx="923.43" cy="83.10" r="4.1"/>
<circle cx="925.38" cy="83.10" r="4.1"/>
<circle cx="927.33" cy="83.10" r="4.1"/>
<circle cx="929.28" cy="83.10" r="4.1"/>
<circle cx="931.23" cy="83.10" r="4.1"/>
<circle cx="933.18" cy="83.10" r="4.1"/>
<circle cx="935.13" cy="83.10" r="4.1"/>
<circle cx="937.09" cy="83.10" r="4.1"/>
<circle cx="939.04" cy="83.10" r="4.1"/>
<circle cx="940.99" cy="83.10" r="4.1"/>
<circle cx="942.94" cy="83.10" r="4.1"/>
<circle cx="944.89" cy="83.10" r="4.1"/>
<circle cx="946.84" cy="83.10" r="4.1"/>
<circle cx="948.79" cy="83.10" r="4.1"/>
<circle cx="950.74" cy="83.10" r="4.1"/>
<circle cx="952.70" cy="83.10" r="4.1"/>
<circle cx="954.65" cy="83.10" r="4.1"/>
<circle cx="956.60" cy="83.10" r="4.1"/>
<circle cx="958.55" cy="83.10" r="4.1"/>
<circle cx="960.50" cy="83.10" r="4.1"/>
<circle cx="962.45" cy="83.10" r="4.1"/>
<circle cx="964.40" cy="83.10" r="4.1"/>
<circle cx="966.35" cy="83.10" r="4.1"/>
<circle cx="968.30" cy="83.10" r="4.1"/>
<circle cx="970.26" cy="83.10" r="4.1"/>
<circle cx="972.21" cy="83.10" r="4.1"/>
<circle cx="974.16" cy="83.10" r="4.1"/>
<circle cx="976.11" cy="83.10" r="4.1"/>
<circle cx="978.06" cy="83.10" r="4.1"/>
<circle cx="980.01" cy="83.10" r="4.1"/>
<circle cx="981.96" cy="83.10" r="4.1"/>
<circle cx="983.91" cy="83.10" r="4.1"/>
<circle cx="985.87" cy="83.10" r="4.1"/>
<circle cx="987.82" cy="83.10" r="4.1"/>
<circle cx="989.77" cy="83.10" r="4.1"/>
<circle cx="991.72" cy="83.10" r="4.1"/>
<circle cx="993.67" cy="83.10" r="4.1"/>
<circle cx="995.62" cy="83.10" r="4.1"/>
<circle cx="997.57" cy="83.10" r="4.1"/>
<circle cx="999.52" cy="83.10" r="4.1"/>
<circle cx="1001.48" cy="83.10" r="4.1"/>
<circle cx="1003.43" cy="83.10" r="4.1"/>
<circle cx="1005.38" cy="83.10" r="4.1"/>
<circle cx="1007.33" cy="83.10" r="4.1"/>
<circle cx="1009.28" cy="83.10" r="4.1"/>
<circle cx="1011.23" cy="83.10" r="4.1"/>
<circle cx="1013.18" cy="83.10" r="4.1"/>
<circle cx="1015.13" cy="83.10" r="4.1"/>
<circle cx="1017.09" cy="83.10" r="4.1"/>
<circle cx="1019.04" cy="83.10" r="4.1"/>
<circle cx="1020.99" cy="83.10" r="4.1"/>
<circle cx="1022.94" cy="83.10" r="4.1"/>
<circle cx="1024.89" cy="83.10" r="4.1"/>
<circle cx="1026.84" cy="83.10" r="4.1"/>
<circle cx="1028.79" cy="83.10" r="4.1"/>
<circle cx="1030.74" cy="83.10" r="4.1"/>
<circle cx="1032.70" cy="83.10" r="4.1"/>
<circle cx="1034.65" cy="83.10" r="4.1"/>
<circle cx="1036.60" cy="83.10" r="4.1"/>
<circle cx="1038.55" cy="83.10" r="4.1"/>
<circle cx="1040.50" cy="83.10" r="4.1"/>
<circle cx="1042.45" cy="83.10" r="4.1"/>
<circle cx="1044.40" cy="83.10" r="4.1"/>
<circle cx="1046.35" cy="83.10" r="4.1"/>
<circle cx="1048.30" cy="83.10" r="4.1"/>
<circle cx="1050.26" cy="83.10" r="4.1"/>
<circle cx="1052.21" cy="83.10" r="4.1"/>
<circle cx="1054.16" cy="83.10" r="4.1"/>
<circle cx="1056.11" cy="83.10" r="4.1"/>
<circle cx="1058.06" cy="83.10" r="4.1"/>
<circle cx="1060.01" cy="83.10" r="4.1"/>
<circle cx="1061.96" cy="83.10" r="4.1"/>
<circle cx="1063.91" cy="83.10" r="4.1"/>
<circle cx="1065.87" cy="83.10" r="4.1"/>
<circle cx="1067.82" cy="83.10" r="4.1"/>
<circle cx="1069.77" cy="83.10" r="4.1"/>
<circle cx="1071.72" cy="83.10" r="4.1"/>
<circle cx="1073.67" cy="83.10" r="4.1"/>
<circle cx="1075.62" cy="83.10" r="4.1"/>
<circle cx="1077.57" cy="83.10" r="4.1"/>
<circle cx="1079.52" cy="83.10" r="4.1"/>
<circle cx="1081.48" cy="83.10" r="4.1"/>
<circle cx="1083.43" cy="83.10" r="4.1"/>
<circle cx="1085.38" cy="83.10" r="4.1"/>
<circle cx="1087.33" cy="83.10" r="4.1"/>
<circle cx="1089.28" cy="83.10" r="4.1"/>
<circle cx="1091.23" cy="83.10" r="4.1"/>
<circle cx="1093.18" cy="83.10" r="4.1"/>
<circle cx="1095.13" cy="83.10" r="4.1"/>
<circle cx="1097.09" cy="83.10" r="4.1"/>
<circle cx="1099.04" cy="83.10" r="4.1"/>
<circle cx="1100.99" cy="83.10" r="4.1"/>
<circle cx="1102.94" cy="83.10" r="4.1"/>
<circle cx="1104.89" cy="83.10" r="4.1"/>
<circle cx="1106.84" cy="83.10" r="4.1"/>
<circle cx="1108.79" cy="83.10" r="4.1"/>
<circle cx="1110.74" cy="83.10" r="4.1"/>
<circle cx="1112.70" cy="83.10" r="4.1"/>
<circle cx="1114.65" cy="83.10" r="4.1"/>
<circle cx="1116.60" cy="83.10" r="4.1"/>
<circle cx="1118.55" cy="83.10" r="4.1"/>
<circle cx="1120.50" cy="83.10" r="4.1"/>
</g>
</svg>
</body>
</html>
